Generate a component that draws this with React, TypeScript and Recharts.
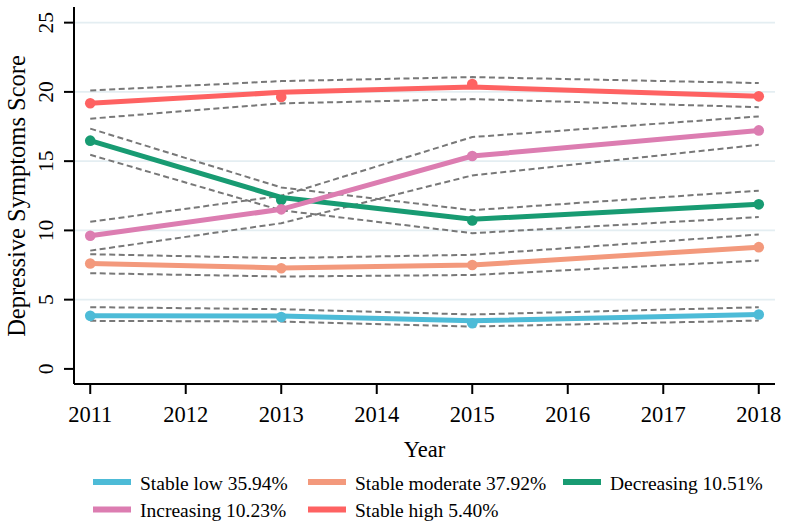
import React from 'react';
import { LineChart, Line, XAxis, YAxis, ReferenceLine } from 'recharts';

const years = [2011, 2013, 2015, 2018];
const xTicks = [2011, 2012, 2013, 2014, 2015, 2016, 2017, 2018];
const yTicks = [0, 5, 10, 15, 20, 25];
const gridValues = [5, 10, 15, 20, 25];

// Stable low
const lowFit = [3.83, 3.82, 3.47, 3.93];
const lowObs = [3.83, 3.75, 3.3, 3.93];
const lowUp = [4.46, 4.31, 3.93, 4.45];
const lowLo = [3.47, 3.42, 3.06, 3.49];
// Stable moderate
const modFit = [7.61, 7.29, 7.5, 8.79];
const modObs = [7.61, 7.27, 7.5, 8.79];
const modUp = [8.28, 8.0, 8.24, 9.7];
const modLo = [6.91, 6.67, 6.78, 7.82];
// Decreasing
const decFit = [16.48, 12.38, 10.8, 11.88];
const decObs = [16.48, 12.2, 10.72, 11.88];
const decUp = [17.35, 13.1, 11.46, 12.87];
const decLo = [15.46, 11.45, 9.8, 10.96];
// Increasing
const incFit = [9.61, 11.52, 15.37, 17.22];
const incObs = [9.61, 11.52, 15.37, 17.22];
const incUp = [10.62, 12.5, 16.74, 18.23];
const incLo = [8.54, 10.52, 13.97, 16.18];
// Stable high
const highFit = [19.18, 19.97, 20.35, 19.68];
const highObs = [19.18, 19.63, 20.57, 19.68];
const highUp = [20.1, 20.78, 21.07, 20.64];
const highLo = [18.07, 19.17, 19.48, 18.9];

const seriesNames = [
  'Stable low 35.94%',
  'Stable moderate 37.92%',
  'Decreasing 10.51%',
  'Increasing 10.23%',
  'Stable high 5.40%',
];
const seriesColors = ['#4dbbd7', '#f3997c', '#189b72', '#dc7db1', '#fe6262'];
const seriesKeys = ['low', 'mod', 'dec', 'inc', 'high'];
const fits = [lowFit, modFit, decFit, incFit, highFit];
const obs = [lowObs, modObs, decObs, incObs, highObs];
const ups = [lowUp, modUp, decUp, incUp, highUp];
const los = [lowLo, modLo, decLo, incLo, highLo];

const data = years.map((year, i) => {
  const row: Record<string, number> = { year };
  seriesKeys.forEach((k, s) => {
    row[k + 'Fit'] = fits[s][i];
    row[k + 'Obs'] = obs[s][i];
    row[k + 'Up'] = ups[s][i];
    row[k + 'Lo'] = los[s][i];
  });
  return row;
});

const FONT = "'Liberation Serif', 'Times New Roman', serif";
const serifStyle = { fontFamily: FONT };

const XTick = (props: any) => {
  const { x, y, payload } = props;
  return (
    <text
      x={x}
      y={y + 27.5}
      textAnchor="middle"
      fontFamily={FONT}
      style={serifStyle}
      fontSize={22.5}
      fill="#000"
    >
      {payload.value}
    </text>
  );
};

const YTick = (props: any) => {
  const { x, y, payload } = props;
  const bx = x - 10.5;
  return (
    <text
      x={bx}
      y={y}
      transform={`rotate(-90, ${bx}, ${y})`}
      textAnchor="middle"
      fontFamily={FONT}
      style={serifStyle}
      fontSize={21.5}
      fill="#000"
    >
      {payload.value}
    </text>
  );
};

const legendCols = [93, 308, 563];
const legendRows = [0, 0, 0, 1, 1];
const legendColIdx = [0, 1, 2, 0, 1];

export default function App() {
  return (
    <div
      style={{
        position: 'absolute',
        left: 0,
        top: 0,
        width: 787,
        height: 525,
        background: '#fff',
        fontFamily: FONT,
      }}
    >
      <LineChart
        width={787}
        height={525}
        data={data}
        margin={{ top: 7, right: 12, bottom: 0, left: 0 }}
        style={serifStyle}
      >
        {gridValues.map((v) => (
          <ReferenceLine key={'g' + v} y={v} stroke="#e4eef2" strokeWidth={1.6} />
        ))}
        <XAxis
          dataKey="year"
          type="number"
          domain={[2010.83, 2018.17]}
          ticks={xTicks}
          allowDataOverflow
          height={141}
          tickSize={10}
          tickMargin={0}
          axisLine={{ stroke: '#000', strokeWidth: 2 }}
          tickLine={{ stroke: '#000', strokeWidth: 2 }}
          tick={XTick}
          interval={0}
        />
        <YAxis
          type="number"
          domain={[-1.09, 26.13]}
          ticks={yTicks}
          allowDataOverflow
          width={74}
          tickSize={10}
          tickMargin={0}
          axisLine={{ stroke: '#000', strokeWidth: 2 }}
          tickLine={{ stroke: '#000', strokeWidth: 2 }}
          tick={YTick}
          interval={0}
        />
        {seriesKeys.map((k) => (
          <Line
            key={k + 'Up'}
            type="linear"
            dataKey={k + 'Up'}
            stroke="#787878"
            strokeWidth={2}
            strokeDasharray="6 3.5"
            dot={false}
            activeDot={false}
            isAnimationActive={false}
          />
        ))}
        {seriesKeys.map((k) => (
          <Line
            key={k + 'Lo'}
            type="linear"
            dataKey={k + 'Lo'}
            stroke="#787878"
            strokeWidth={2}
            strokeDasharray="6 3.5"
            dot={false}
            activeDot={false}
            isAnimationActive={false}
          />
        ))}
        {seriesKeys.map((k, s) => (
          <Line
            key={k + 'Fit'}
            type="linear"
            dataKey={k + 'Fit'}
            stroke={seriesColors[s]}
            strokeWidth={5}
            dot={false}
            activeDot={false}
            isAnimationActive={false}
          />
        ))}
        {seriesKeys.map((k, s) => (
          <Line
            key={k + 'Obs'}
            type="linear"
            dataKey={k + 'Obs'}
            stroke="none"
            dot={{ r: 5.3, fill: seriesColors[s], stroke: 'none' }}
            activeDot={false}
            isAnimationActive={false}
          />
        ))}
      </LineChart>
      <svg
        width={787}
        height={525}
        style={{ position: 'absolute', left: 0, top: 0, pointerEvents: 'none' }}
      >
        <text
          x={25}
          y={196}
          transform="rotate(-90, 25, 196)"
          textAnchor="middle"
          fontFamily={FONT}
          fontSize={24.5}
          fill="#000"
        >
          Depressive Symptoms Score
        </text>
        <text x={424.5} y={456.5} textAnchor="middle" fontFamily={FONT} fontSize={22.5} fill="#000">
          Year
        </text>
        {seriesNames.map((name, s) => {
          const cx = legendCols[legendColIdx[s]];
          const cy = legendRows[s] === 0 ? 482 : 509.5;
          return (
            <g key={name}>
              <rect x={cx} y={cy - 3} width={38} height={6} fill={seriesColors[s]} />
              <text x={cx + 47} y={cy + 7.5} fontFamily={FONT} fontSize={19.5} fill="#000">
                {name}
              </text>
            </g>
          );
        })}
      </svg>
    </div>
  );
}
